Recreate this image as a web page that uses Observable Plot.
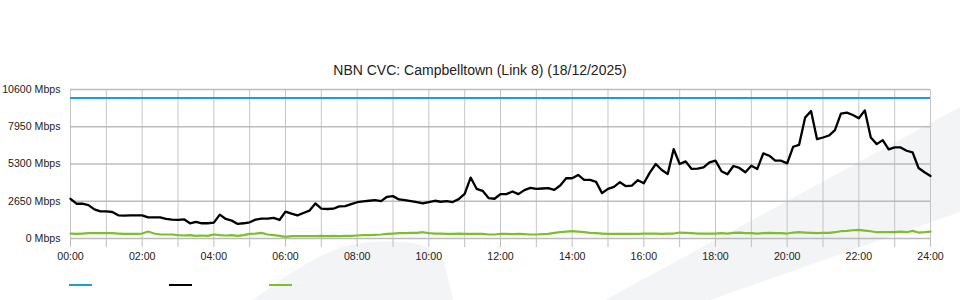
<!DOCTYPE html>
<html>
<head>
<meta charset="utf-8">
<script src="https://cdn.jsdelivr.net/npm/d3@7"></script>
<script src="https://cdn.jsdelivr.net/npm/@observablehq/plot@0.6"></script>
<style>
  html, body { margin: 0; padding: 0; background: #fff; }
  #page { position: relative; width: 960px; height: 300px; overflow: hidden; font-family: "Liberation Sans", Arial, sans-serif; }
  #deco { position: absolute; left: 0; top: 0; z-index: 0; }
  #title { position: absolute; left: 0; top: 0; width: 960px; height: 80px; box-sizing: border-box; padding-top: 62px;
           text-align: center; font-size: 14px; line-height: 16px; color: #222; z-index: 1; }
  #chart { position: absolute; left: 0; top: 80px; z-index: 1; }
  #legend { position: absolute; left: 0; top: 270px; width: 960px; height: 30px; z-index: 1; }
  #legend .sw { position: absolute; top: 14px; width: 23px; height: 2px; }
</style>
</head>
<body>
<div id="page">
  <svg id="deco" width="960" height="300">
    <polygon points="605,300 960,107 960,212 710,300" fill="#f3f4f6"/>
    <path d="M253,300 C285,276 315,256 345,246 C370,240 395,241 413,243 C428,246 438,252 444,262 L453,300 Z" fill="#f3f4f6"/>
  </svg>
  <div id="title">NBN CVC: Campbelltown (Link 8) (18/12/2025)</div>
  <div id="chart"></div>
  <div id="legend"></div>
</div>
<script>
// ---- data (10-minute samples from 00:00 to 24:00) ----
const sampleMinutes = 10;
const capacityMbps = 10000;
const yTicks = [0, 2650, 5300, 7950, 10600];
const xTickHours = d3.range(0, 25);
const seriesColors = { capacity: "#1b9de2", total: "#000000", other: "#7cbf2b" };

const totalMbps = [
  2827, 2473, 2473, 2379, 2073, 1932, 1932, 1885, 1649, 1625, 1649, 1649,
  1649, 1508, 1508, 1508, 1390, 1343, 1319, 1366, 1084, 1178, 1084, 1084,
  1131, 1696, 1390, 1272, 1036, 1084, 1154, 1343, 1413, 1413, 1461, 1319,
  1908, 1767, 1649, 1814, 1979, 2497, 2120, 2097, 2120, 2285, 2309, 2450,
  2580, 2638, 2685, 2733, 2662, 2968, 3015, 2780, 2733, 2662, 2591, 2497,
  2591, 2685, 2615, 2662, 2591, 2803, 3180, 4334, 3534, 3392, 2874, 2827,
  3157, 3157, 3345, 3157, 3439, 3604, 3534, 3557, 3581, 3463, 3769, 4287,
  4287, 4523, 4169, 4169, 4028, 3227, 3534, 3675, 4005, 3722, 3769, 4146,
  3934, 4688, 5300, 4876, 4594, 6360, 5300, 5489, 4947, 4970, 5065, 5418,
  5536, 4782, 4570, 5159, 5018, 4711, 5183, 4947, 6054, 5889, 5536, 5536,
  5347, 6525, 6666, 8598, 9069, 7067, 7185, 7326, 7703, 8881, 8952, 8787,
  8551, 9116, 7185, 6714, 6996, 6337, 6478, 6478, 6242, 6125, 5018, 4711,
  4452
];

const otherMbps = [
  353, 330, 353, 377, 377, 377,  377, 377, 353, 330, 330, 330,
  353, 494, 353, 283, 283, 283,  236, 212, 236, 188, 212, 188,
  283, 236, 212, 236, 188, 236,  330, 353, 400, 283, 236, 188,
  118, 165, 165, 165, 165, 165,  188, 165, 188, 165, 188, 188,
  212, 236, 236, 260, 283, 330,  353, 377, 377, 400, 400, 447,
  377, 353, 353, 330, 330, 353,  330, 330, 330, 330, 283, 283,
  330, 330, 306, 330, 306, 283,  283, 306, 330, 400, 447, 494,
  518, 494, 447, 400, 377, 353,  330, 330, 330, 330, 330, 330,
  353, 353, 353, 330, 353, 353,  424, 400, 377, 353, 353, 353,
  353, 377, 353, 400, 424, 377,  377, 353, 377, 400, 377, 377,
  353, 424, 447, 424, 400, 377,  400, 400, 447, 518, 541, 588,
  612, 565, 518, 447, 447, 447,  447, 494, 447, 541, 424, 447,
  494
];

const hourOf = (i) => (i * sampleMinutes) / 60;
const totalData = totalMbps.map((v, i) => ({ h: hourOf(i), v }));
const otherData = otherMbps.map((v, i) => ({ h: hourOf(i), v }));
const fmtHour = (h) => (h % 2 === 0 ? String(h).padStart(2, "0") + ":00" : "");

const chart = Plot.plot({
  width: 960,
  height: 190,
  marginTop: 9,
  marginBottom: 32,
  marginLeft: 70,
  marginRight: 30,
  style: { fontFamily: "'Liberation Sans', Arial, sans-serif", fontSize: "10.6px", color: "#222", background: "transparent", overflow: "visible" },
  x: { domain: [0, 24] },
  y: { domain: [0, 10600] },
  marks: [
    Plot.gridX(xTickHours, { stroke: "#b8b8b8", strokeOpacity: 0.8, strokeWidth: 1 }),
    Plot.gridY(yTicks, { stroke: "#b5b5b5", strokeOpacity: 0.9, strokeWidth: 1.6 }),
    Plot.axisX(xTickHours, { tickSize: 9, tickPadding: 5, tickFormat: fmtHour, stroke: "#bdbdbd", label: null }),
    Plot.axisY(yTicks, { tickSize: 0, tickPadding: 10, tickFormat: (d) => `${d} Mbps`, label: null }),
    Plot.ruleY([capacityMbps], { stroke: seriesColors.capacity, strokeWidth: 2 }),
    Plot.line(otherData, { x: "h", y: "v", stroke: seriesColors.other, strokeWidth: 2.2 }),
    Plot.line(totalData, { x: "h", y: "v", stroke: seriesColors.total, strokeWidth: 2.3 })
  ]
});
document.getElementById("chart").appendChild(chart);

// legend swatches (no labels visible in the reference)
const legend = document.getElementById("legend");
[seriesColors.capacity, seriesColors.total, seriesColors.other].forEach((c, i) => {
  const s = document.createElement("div");
  s.className = "sw";
  s.style.left = (69 + i * 100) + "px";
  s.style.background = c;
  legend.appendChild(s);
});
</script>
</body>
</html>
